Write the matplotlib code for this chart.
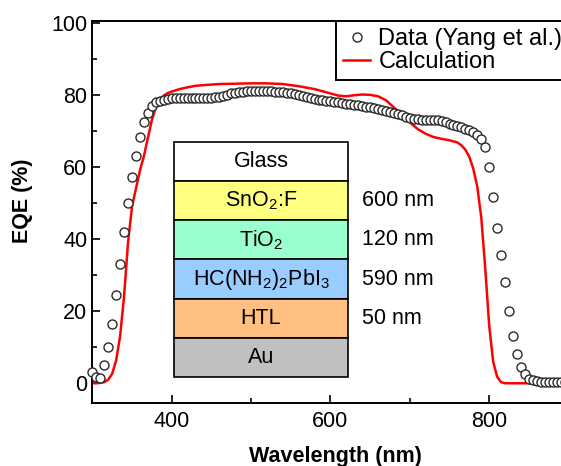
import matplotlib
matplotlib.use('Agg')
import matplotlib.pyplot as plt
from matplotlib.patches import Rectangle
import numpy as np

plt.rcParams['font.family'] = ['Liberation Sans', 'DejaVu Sans']
plt.rcParams['mathtext.fontset'] = 'custom'
plt.rcParams['mathtext.rm'] = 'Liberation Sans'
plt.rcParams['mathtext.it'] = 'Liberation Sans'

# ── data ────────────────────────────────────────
wl_data = np.arange(300, 901, 5)
eqe_data = [
    3.0, 1.8, 1.4, 5.0, 10.1, 16.4, 24.6, 33.1, 41.9, 49.9,      # 300-345
    57.1, 63.0, 68.4, 72.4, 74.9, 76.8, 77.9, 78.4, 78.7, 78.9,  # 350-395
    79.0, 79.1, 79.2, 79.2, 79.2, 79.2, 79.1, 79.1, 79.0, 79.0,  # 400-445
    79.1, 79.3, 79.5, 79.8, 80.1, 80.4, 80.6, 80.8, 80.9, 81.0,  # 450-495
    81.1, 81.1, 81.1, 81.1, 81.1, 81.0, 80.9, 80.8, 80.7, 80.6,  # 500-545
    80.5, 80.2, 80.0, 79.7, 79.4, 79.1, 78.9, 78.7, 78.6, 78.4,  # 550-595
    78.3, 78.1, 77.9, 77.7, 77.5, 77.4, 77.2, 77.1, 76.9, 76.7,  # 600-645
    76.5, 76.3, 76.1, 75.8, 75.5, 75.3, 75.0, 74.6, 74.3, 74.0,  # 650-695
    73.7, 73.4, 73.2, 73.1, 73.0, 73.0, 73.0, 72.9, 72.7, 72.4,  # 700-745
    72.0, 71.7, 71.3, 71.0, 70.6, 70.3, 69.8, 69.0, 67.8, 65.6,  # 750-795
    60.0, 51.6, 43.1, 35.6, 28.0, 20.0, 13.1, 8.0, 4.5, 2.7,     # 800-845
    1.3, 0.8, 0.5, 0.4, 0.4, 0.4, 0.4, 0.4, 0.4, 0.4,            # 850-895
    0.4,                                                         # 900
]

wl_calc = [300, 305, 310, 315, 320, 325, 330, 335, 340, 345, 350, 355, 360,
           365, 370, 375, 380, 385, 390, 395, 400, 410, 420, 430, 440, 460,
           480, 500, 520, 540, 550, 560, 570, 580, 590, 600, 610, 620, 630,
           640, 650, 660, 670, 680, 690, 700, 710, 720, 730, 740, 750, 760,
           765, 770, 775, 780, 785, 790, 795, 800, 805, 810, 815, 820, 900]
eqe_calc = [0.0, 0.0, 0.1, 0.3, 1.0, 2.6, 6.3, 13.0, 24.0, 39.0, 49.0, 54.0, 59.0,
            63.0, 68.0, 73.0, 76.5, 78.6, 79.8, 80.5, 80.9, 81.6, 82.1, 82.5, 82.7, 83.0,
            83.1, 83.2, 83.2, 83.0, 82.7, 82.4, 82.0, 81.6, 81.0, 80.4, 79.8, 79.6, 79.9,
            80.1, 80.0, 79.6, 78.5, 76.5, 74.5, 72.4, 70.5, 69.2, 68.3, 67.8, 67.4, 66.8,
            66.0, 64.8, 62.8, 59.5, 54.5, 46.0, 32.0, 16.0, 6.0, 1.8, 0.3, 0.0, 0.0]

layer_names = ['Glass', r'SnO$_2$:F', r'TiO$_2$', r'HC(NH$_2$)$_2$PbI$_3$', 'HTL', 'Au']
layer_thick = ['', '600 nm', '120 nm', '590 nm', '50 nm', '']
layer_colors = ['#FFFFFF', '#FFFF80', '#99FFCC', '#99CCFF', '#FFBF80', '#C0C0C0']

FS = 15.5

# ── figure ──────────────────────────────────────
fig = plt.figure(figsize=(5.61, 4.66), dpi=100)
ax = fig.add_axes([0.1645, 0.135, 0.849, 0.820])

ax.plot(wl_calc, eqe_calc, color='red', lw=1.8, zorder=2, label='Calculation')
ax.plot(wl_data, eqe_data, 'o', ms=6.5, mfc='white', mec='#2a2a2a', mew=1.0,
        zorder=4, clip_on=False, label='Data (Yang et al.)')

ax.set_xlim(300, 900)
ax.set_ylim(-5.5, 100.5)
ax.set_xticks([400, 600, 800])
ax.set_xticks([300, 500, 700, 900], minor=True)
ax.set_yticks(range(0, 101, 20))
ax.set_yticks(range(10, 100, 20), minor=True)
ax.tick_params(which='both', direction='in', labelsize=FS, width=1.2)
ax.tick_params(which='major', length=6)
ax.tick_params(which='minor', length=3.5)
ax.tick_params(axis='x', pad=6)
for s in ax.spines.values():
    s.set_linewidth(1.4)

ax.set_xlabel('Wavelength (nm)', fontsize=FS, fontweight='bold')
ax.set_ylabel('EQE (%)', fontsize=FS, fontweight='bold')
ax.xaxis.set_label_coords(0.5115, -0.112)
ax.yaxis.set_label_coords(-0.125, 0.53)

# legend: data first
h, l = ax.get_legend_handles_labels()
leg = ax.legend(h[::-1], l[::-1], loc='upper left', bbox_to_anchor=(0.5115, 1.0),
                borderaxespad=0, fontsize=17.0, frameon=True, fancybox=False,
                framealpha=1, edgecolor='black', handlelength=1.15,
                handletextpad=0.35, labelspacing=0.05, borderpad=0.3)
leg.get_frame().set_linewidth(1.4)

# ── layer stack inset ───────────────────────────
x0, x1 = 403, 622
y_top, h_layer = 67.0, 10.88
for i, (name, th, c) in enumerate(zip(layer_names, layer_thick, layer_colors)):
    yb = y_top - (i + 1) * h_layer
    ax.add_patch(Rectangle((x0, yb), x1 - x0, h_layer, facecolor=c,
                           edgecolor='black', lw=1.2, zorder=5))
    ax.text((x0 + x1) / 2, yb + h_layer / 2, name, ha='center', va='center',
            fontsize=FS, zorder=6)
    if th:
        ax.text(640, yb + h_layer / 2, th, ha='left', va='center',
                fontsize=FS, zorder=6)

fig.savefig('out.png', dpi=100)
